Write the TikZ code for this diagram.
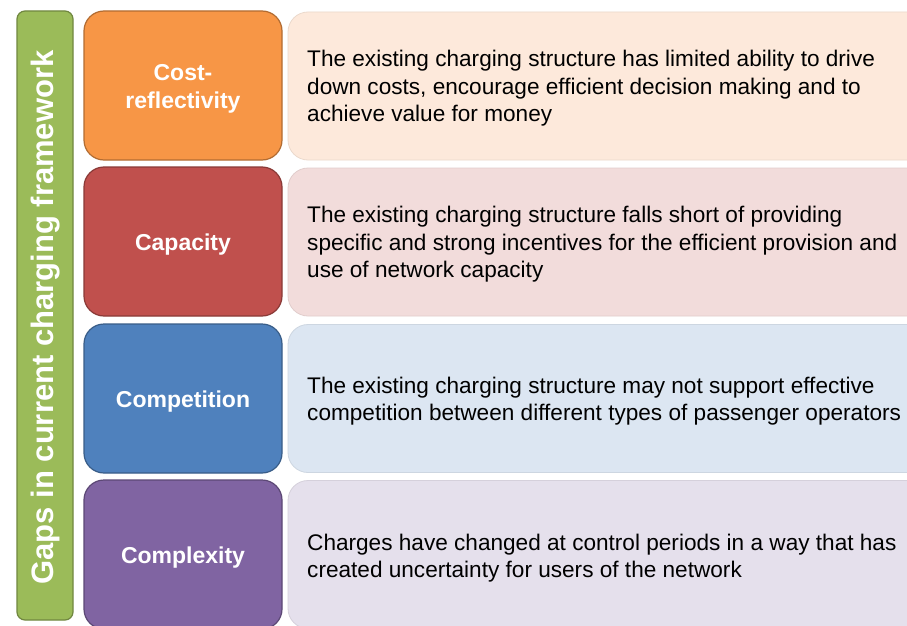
\documentclass[tikz,border=0pt]{standalone}
\usepackage{fontspec}
\setmainfont{Liberation Sans}
\definecolor{cOr}{HTML}{F79646}
\definecolor{cRe}{HTML}{C0504D}
\definecolor{cBl}{HTML}{4F81BD}
\definecolor{cPu}{HTML}{8064A2}
\definecolor{cGr}{HTML}{9BBB59}
\definecolor{lOr}{HTML}{FDE9DB}
\definecolor{lRe}{HTML}{F2DCDB}
\definecolor{lBl}{HTML}{DCE6F2}
\definecolor{lPu}{HTML}{E5E0EC}
\begin{document}
\begin{tikzpicture}[x=1pt,y=-1pt,
  catbox/.style={draw=#1!72!black, fill=#1, line width=1.2pt, rounded corners=20pt,
     minimum width=198pt, minimum height=149pt, inner sep=0pt},
  cattext/.style={inner sep=0pt, text=white,
     font=\bfseries\fontsize{23}{28}\selectfont, align=center},
  descbox/.style={draw=#1!93!black, fill=#1, line width=0.8pt, rounded corners=20pt,
     minimum width=640pt, minimum height=148pt, inner sep=0pt},
  desctext/.style={anchor=west, inner sep=0pt, align=left, text=black,
     font=\fontsize{22.6}{27.5}\selectfont}]
\useasboundingbox (0,0) rectangle (907,626);
\clip (0,0) rectangle (907,626);
\fill[white] (0,0) rectangle (907,626);
% green side bar
\node[draw=cGr!72!black, fill=cGr, line width=1.2pt, rounded corners=8pt,
  minimum width=56pt, minimum height=609pt, inner sep=0pt] (bar) at (45,315.5) {};
\node[rotate=90, text=white, font=\bfseries\fontsize{31}{36}\selectfont, inner sep=0pt]
  (bartext) at (46,317.5) {Gaps in current charging framework};
% row 1
\node[descbox=lOr] (d1) at (608,86) {};
\node[catbox=cOr] (c1) at (183,85.5) {};
\node[cattext] (l1) at (183,88.5) {Cost-\\reflectivity};
\node[desctext] (t1) at (307,88.5) {The existing charging structure has limited ability to drive\\down costs, encourage efficient decision making and to\\achieve value for money};
% row 2
\node[descbox=lRe] (d2) at (608,242) {};
\node[catbox=cRe] (c2) at (183,241.5) {};
\node[cattext] (l2) at (183,244.5) {Capacity};
\node[desctext] (t2) at (307,244.5) {The existing charging structure falls short of providing\\specific and strong incentives for the efficient provision and\\use of network capacity};
% row 3
\node[descbox=lBl] (d3) at (608,398.5) {};
\node[catbox=cBl] (c3) at (183,398.5) {};
\node[cattext] (l3) at (183,401.5) {Competition};
\node[desctext] (t3) at (307,401) {The existing charging structure may not support effective\\competition between different types of passenger operators};
% row 4
\node[descbox=lPu] (d4) at (608,554.5) {};
\node[catbox=cPu] (c4) at (183,554.5) {};
\node[cattext] (l4) at (183,557.5) {Complexity};
\node[desctext] (t4) at (307,558) {Charges have changed at control periods in a way that has\\created uncertainty for users of the network};
\end{tikzpicture}
\end{document}
